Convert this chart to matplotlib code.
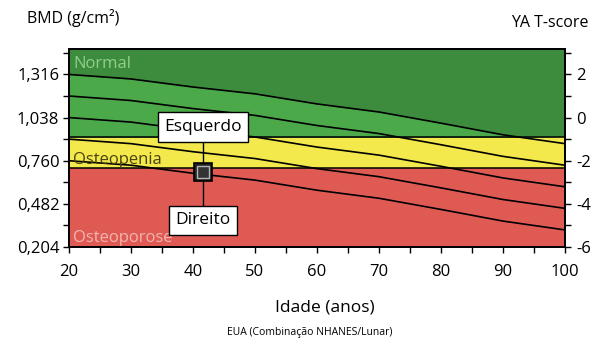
import matplotlib
matplotlib.use('Agg')
import matplotlib.pyplot as plt
import numpy as np

# reference curve (age-matched mean BMD)
ages = [20, 30, 40, 50, 60, 70, 80, 90, 100]
mean_bmd = [1.038, 1.009, 0.957, 0.913, 0.848, 0.796, 0.724, 0.649, 0.592]
sd_offsets = [2, 1, 0, -1, -2]

ya_mean = 1.038   # T-score 0
ya_sd = 0.139     # one T-score unit
normal_lo = 0.910
porose_hi = 0.710

bmd_ticks = [0.204, 0.482, 0.760, 1.038, 1.316]
bmd_labels = ['0,204', '0,482', '0,760', '1,038', '1,316']
t_ticks = [-6, -4, -2, 0, 2]
age_ticks = [20, 30, 40, 50, 60, 70, 80, 90, 100]

patient_age = 41.6
patient_bmd = 0.688

plt.rcParams['font.family'] = ['Open Sans', 'DejaVu Sans']
plt.rcParams['axes.unicode_minus'] = False

dark_green = '#3d8c3d'
light_green = '#4ca94a'
yellow = '#f3e94c'
red = '#e05a54'

ymin, ymax = 0.204, 1.48

fig = plt.figure(figsize=(6.09, 3.49), dpi=100)
ax = fig.add_axes([0.1133, 0.2923, 0.8144, 0.5673])
ax.set_xlim(20, 100)
ax.set_ylim(ymin, ymax)

ax.axhspan(normal_lo, ymax, color=dark_green, lw=0, zorder=0)
ax.axhspan(porose_hi, normal_lo, color=yellow, lw=0, zorder=0)
ax.axhspan(ymin, porose_hi, color=red, lw=0, zorder=0)

mean = np.array(mean_bmd)
upper = mean + 2 * ya_sd
lower = mean - 2 * ya_sd
ax.fill_between(ages, np.clip(lower, normal_lo, None), np.clip(upper, normal_lo, None),
                color=light_green, lw=0, zorder=1)

for k in sd_offsets:
    ax.plot(ages, mean + k * ya_sd, color='black', lw=1.2, zorder=3)
ax.axhline(normal_lo, color='black', lw=1.1, zorder=3)
ax.axhline(porose_hi, color='black', lw=1.1, zorder=3)

ax.text(20.7, 1.386, 'Normal', color='#8fcf8c', fontsize=12, va='center', zorder=4)
ax.text(20.7, 0.762, 'Osteopenia', color='#48430f', fontsize=12, va='center', zorder=4)
ax.text(20.7, 0.262, 'Osteoporose', color='#f2b5b0', fontsize=12, va='center', zorder=4)

# patient marker with left / right labels
ax.plot([patient_age, patient_age], [0.377, 0.977], color='black', lw=1, zorder=5)
box = dict(boxstyle='square,pad=0.38', fc='white', ec='black', lw=1)
ax.text(patient_age, 0.977, 'Esquerdo', ha='center', va='center', fontsize=12.5, bbox=box, zorder=6)
ax.text(patient_age, 0.377, 'Direito', ha='center', va='center', fontsize=12.5, bbox=box, zorder=6)
ax.plot(patient_age, patient_bmd, marker='s', ms=13.5, mfc='#222222', mec='black', mew=1.2, zorder=7)
ax.plot(patient_age, patient_bmd, marker='s', ms=8.5, mfc='#333333', mec='#b5b5b5', mew=1, zorder=8)

ax.set_xticks(age_ticks)
ax.set_xticks(np.arange(25, 100, 10), minor=True)
ax.set_yticks(bmd_ticks, bmd_labels)
ax.set_yticks([(a + b) / 2 for a, b in zip(bmd_ticks[:-1], bmd_ticks[1:])] + [1.455], minor=True)
ax.tick_params(which='both', direction='out', length=4, width=1, labelsize=12)
ax.tick_params(axis='x', pad=8)
ax.tick_params(axis='y', pad=3)

ax2 = ax.twinx()
ax2.set_ylim((ymin - ya_mean) / ya_sd, (ymax - ya_mean) / ya_sd)
ax2.set_yticks(t_ticks)
ax2.set_yticks([-5, -3, -1, 1, 3], minor=True)
ax2.tick_params(which='both', direction='out', length=4, width=1, labelsize=12, pad=4)

for a in (ax, ax2):
    for s in a.spines.values():
        s.set_linewidth(1.3)
        s.set_color('black')

fig.text(0.044, 0.948, 'BMD (g/cm²)', fontsize=11.5, va='center')
fig.text(0.966, 0.934, 'YA T-score', fontsize=11.5, ha='right', va='center')
fig.text(0.534, 0.12, 'Idade (anos)', fontsize=12.5, ha='center', va='center')
fig.text(0.508, 0.046, 'EUA (Combinação NHANES/Lunar)', fontsize=7.5, ha='center', va='center')

fig.savefig('out.png', dpi=100)
